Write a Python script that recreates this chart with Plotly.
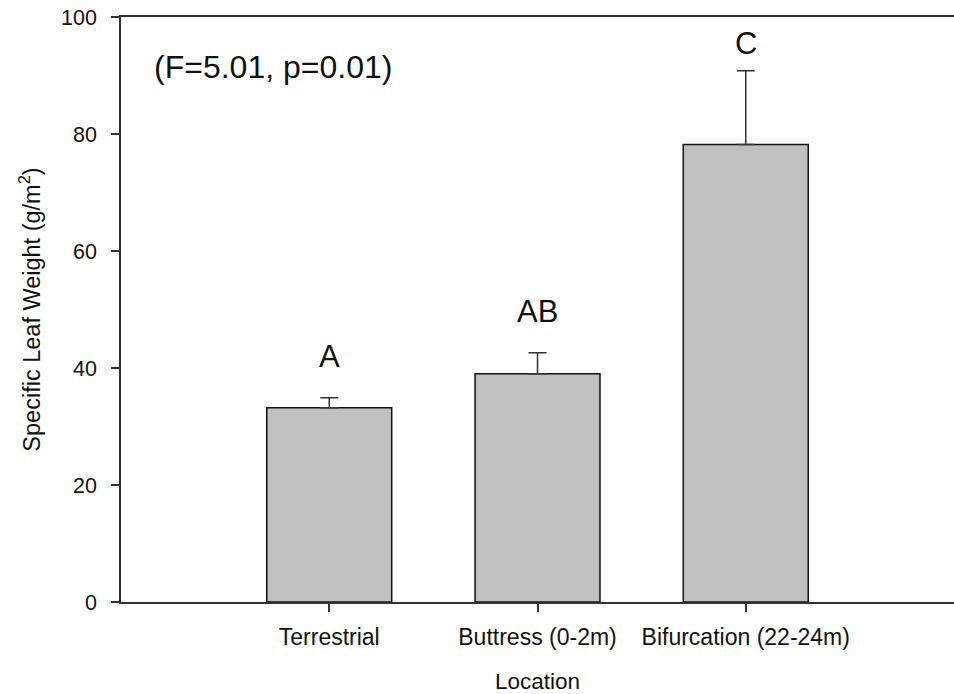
import plotly.graph_objects as go

categories = ["Terrestrial", "Buttress (0-2m)", "Bifurcation (22-24m)"]
positions = [1, 2, 3]
means = [33.2, 39.0, 78.2]
errors = [1.7, 3.6, 12.6]
group_letters = ["A", "AB", "C"]
letter_y = [41.9, 49.7, 95.5]
stat_text = "(F=5.01, p=0.01)"

FONT = "Arial, Liberation Sans, sans-serif"
INK = "#111111"

fig = go.Figure()
fig.add_trace(go.Bar(
    x=positions, y=means, width=0.6,
    marker=dict(color="#c0c0c0", line=dict(color=INK, width=1.5)),
    error_y=dict(type="data", array=errors, symmetric=False, arrayminus=[0, 0, 0],
                 color="#333333", thickness=1.5, width=9),
    showlegend=False,
))

for xp, lab, ly in zip(positions, group_letters, letter_y):
    fig.add_annotation(x=xp, y=ly, xref="x", yref="y", text=lab, showarrow=False,
                       font=dict(family=FONT, size=31, color=INK),
                       xanchor="center", yanchor="middle")

fig.add_annotation(x=0.149, y=91.5, xref="x", yref="y", text=stat_text, showarrow=False,
                   font=dict(family=FONT, size=32, color=INK),
                   xanchor="left", yanchor="middle")

fig.update_layout(
    width=954, height=694,
    margin=dict(l=121, r=0, t=17, b=92),
    paper_bgcolor="white", plot_bgcolor="white",
    font=dict(family=FONT, color=INK),
    xaxis=dict(
        range=[0, 4], tickvals=positions, ticktext=categories,
        automargin=False,
        showline=True, linecolor="#333333", linewidth=1.5, mirror=True,
        ticks="outside", ticklen=8, tickwidth=1.5, tickcolor="#333333",
        ticklabelstandoff=6,
        showgrid=False, zeroline=False,
        tickfont=dict(family=FONT, size=23, color=INK),
        title=dict(text="Location", font=dict(family=FONT, size=22.5, color=INK), standoff=27),
    ),
    yaxis=dict(
        range=[0, 100], tickvals=[0, 20, 40, 60, 80, 100],
        automargin=False, ticklabeloverflow="allow",
        showline=True, linecolor="#333333", linewidth=1.5, mirror=False,
        ticks="outside", ticklen=8, tickwidth=1.5, tickcolor="#333333",
        ticklabelstandoff=10,
        showgrid=False, zeroline=False,
        tickfont=dict(family=FONT, size=21.5, color=INK),
        title=dict(text="Specific Leaf Weight (g/m<sup>2</sup>)",
                   font=dict(family=FONT, size=23.5, color=INK), standoff=14),
    ),
)

# remove the page's default body margin so the figure fills the window exactly
fig.write_html("out.html", config={"displayModeBar": False},
               post_script="document.body.style.margin='0';")
